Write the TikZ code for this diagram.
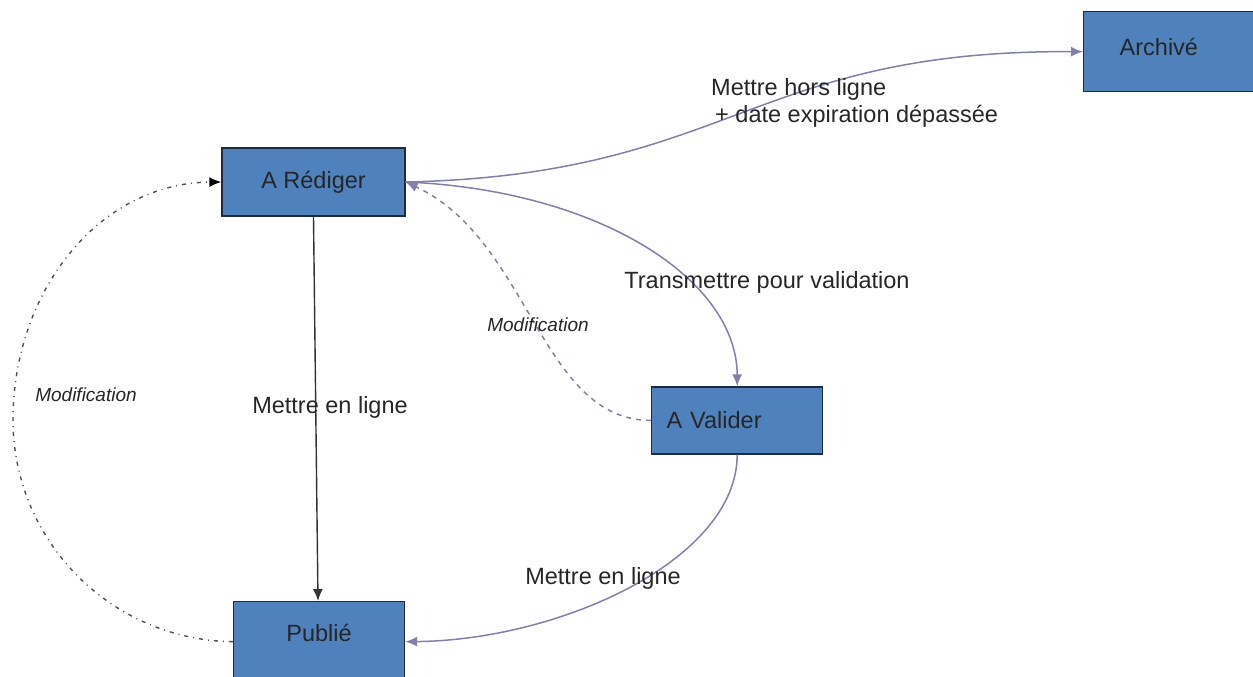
\documentclass[tikz,border=0pt]{standalone}
\usepackage{fontspec}
\setmainfont{Liberation Sans}
\usetikzlibrary{arrows.meta}
\usetikzlibrary{positioning}

\definecolor{boxblue}{HTML}{4F81BD}
\definecolor{boxline}{HTML}{1F2A3C}
\definecolor{flowcol}{HTML}{8080B0}
\definecolor{backcol}{HTML}{505050}

\begin{document}
\begin{tikzpicture}[
			x=1pt, y=-1pt,
			every node/.style={font=\fontsize{23.5}{27}\selectfont, text=black!85},
			state/.style={rectangle, draw=boxline, fill=boxblue, line width=1.4pt, inner ysep=0pt},
			flow/.style={draw=flowcol, line width=1.5pt, -{Latex[length=12pt,width=10pt]}},
			modif/.style={draw=flowcol, line width=1.5pt, dash pattern=on 5pt off 5pt, -{Latex[length=12pt,width=10pt]}},
			back/.style={draw=backcol, line width=1.4pt, dash pattern=on 4pt off 5pt on 1pt off 5pt, -{Latex[length=12pt,width=10pt,black]}},
			lbl/.style={font=\fontsize{19}{22}\selectfont\itshape}
		]
		\useasboundingbox (0,0) rectangle (1253,677);

		% states
		\node[state, minimum width=183pt, minimum height=68pt] (redig) at (313.5,182) {A Rédiger};
		\node[state, anchor=north west, align=left, inner xsep=36pt, text width=140pt,
			text height=44pt, text depth=36pt] (arch) at (1083,11) {Archivé};
		\node[state, anchor=west, align=left, inner xsep=15pt, text width=141pt,
			minimum height=67pt] (valid) at (651,420.5) {A Valider};
		\node[state, anchor=north, minimum width=171pt, text height=40pt, text depth=40pt] (publie) at (319,601) {Publié};

		% transitions
		\draw[flow] (redig.east) .. controls (730,175) and (750,50) .. (arch.west);
		\draw[flow] (redig.east) .. controls (600,190) and (737,280) .. (valid.north);
		\draw[modif] (valid.west) .. controls (540,420) and (530,240) .. (redig.east);
		\draw[line width=1.4pt, draw=black!80, -{Latex[length=12pt,width=10pt]}] (redig.south) -- ([xshift=-1pt]publie.north);
		\draw[flow] (valid.south) .. controls (737,560) and (560,640) .. (publie.east);
		\draw[back] (publie.west) .. controls (110,640) and (13,540) .. (13,420)
			.. controls (13,290) and (100,183) .. (redig.west);

		% labels
		\node[anchor=north west, align=left, inner sep=0pt] (horsligne) at (711,78)
			{Mettre hors ligne\\\hspace*{4pt}+ date expiration dépassée};
		\node (transm) at (767,282) {Transmettre pour validation};
		\node[lbl] (modif1) at (538,325) {Modification};
		\node[lbl] (modif2) at (86,395) {Modification};
		\node (enligne1) at (330,407) {Mettre en ligne};
		\node (enligne2) at (603,578) {Mettre en ligne};
	\end{tikzpicture}
\end{document}
